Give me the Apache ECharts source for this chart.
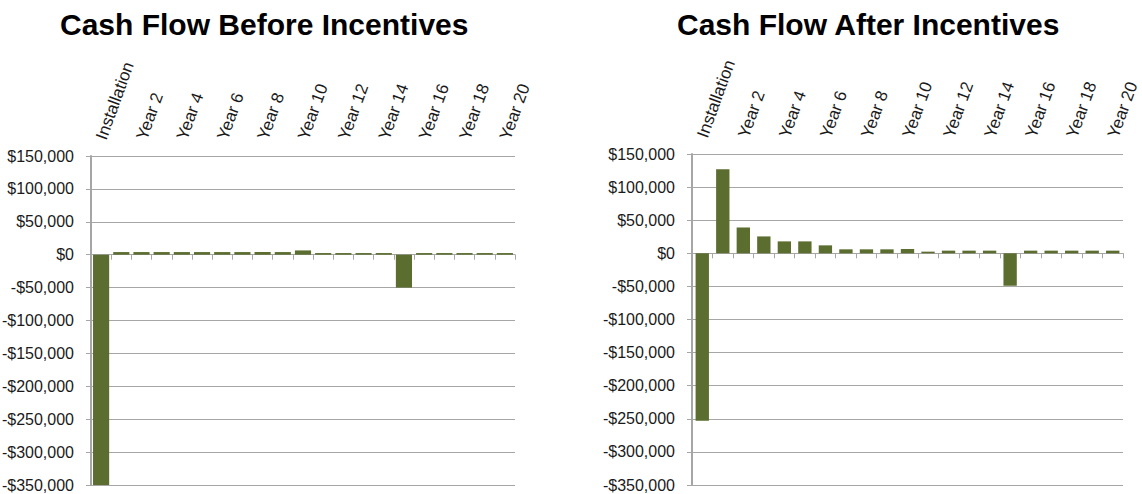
<!DOCTYPE html>
<html>
<head>
<meta charset="utf-8">
<script src="https://cdn.jsdelivr.net/npm/echarts@6/dist/echarts.min.js"></script>
<style>
  html, body { margin: 0; padding: 0; background: #fff; }
  #main { width: 1142px; height: 494px; }
</style>
</head>
<body>
<div id="main"></div>
<script>
var categories = ['Installation', 'Year 1', 'Year 2', 'Year 3', 'Year 4', 'Year 5', 'Year 6', 'Year 7',
  'Year 8', 'Year 9', 'Year 10', 'Year 11', 'Year 12', 'Year 13', 'Year 14', 'Year 15', 'Year 16',
  'Year 17', 'Year 18', 'Year 19', 'Year 20'];

var beforeIncentives = [-350000, 4000, 4000, 4000, 4000, 4000, 4000, 4000, 4000, 4000, 6500,
  2500, 2500, 2500, 2500, -50000, 2500, 2500, 2500, 2500, 2500];

var afterIncentives = [-253000, 127000, 39000, 25500, 18000, 18000, 12000, 6000, 6000, 6000, 6500,
  2500, 4000, 4000, 4000, -49000, 4000, 4000, 4000, 4000, 4000];

var yMin = -350000, yMax = 150000, yStep = 50000;

(function() {
  var font = '"Liberation Sans", Arial, sans-serif';
  var ink = '#1a1a1a';
  var rule = '#a6a6a6';
  var barColor = '#5b6d2f';

  function money(v) {
    var s = '$' + Math.abs(v).toLocaleString('en-US');
    return v < 0 ? '-' + s : s;
  }

  // category labels sit above the plot, slanted
  function labelAxis(gi) {
    return {
      type: 'category', gridIndex: gi, position: 'top', data: categories,
      axisLine: { show: false, onZero: false },
      axisTick: { show: false },
      axisLabel: { interval: 1, rotate: -70, margin: 17, color: ink, fontSize: 17, fontFamily: font }
    };
  }
  // second axis only draws the line and ticks at $0
  function zeroAxis(gi) {
    return {
      type: 'category', gridIndex: gi, position: 'bottom', data: categories,
      axisLine: { show: true, onZero: true, lineStyle: { color: rule, width: 1 } },
      axisTick: { show: true, interval: 0, length: 5, lineStyle: { color: rule } },
      axisLabel: { show: false }
    };
  }
  function valueAxis(gi) {
    return {
      type: 'value', gridIndex: gi, min: yMin, max: yMax, interval: yStep,
      axisLine: { show: true, lineStyle: { color: rule, width: 2 } },
      axisTick: { show: true, length: 5, lineStyle: { color: rule } },
      splitLine: { lineStyle: { color: rule, width: 1 } },
      axisLabel: { margin: 17, color: ink, fontSize: 16, fontFamily: font, formatter: money }
    };
  }

  var chart = echarts.init(document.getElementById('main'), null, { renderer: 'svg' });
  chart.setOption({
    animation: false,
    title: [
      { text: 'Cash Flow Before Incentives', left: 55, top: 4,
        textStyle: { fontSize: 30, fontWeight: 'bold', color: '#000', fontFamily: font } },
      { text: 'Cash Flow After Incentives', left: 672, top: 4,
        textStyle: { fontSize: 30, fontWeight: 'bold', color: '#000', fontFamily: font } }
    ],
    grid: [
      { left: 91, right: 627, top: 156, bottom: 9, outerBoundsMode: 'none' },
      { left: 692, right: 19, top: 154, bottom: 9, outerBoundsMode: 'none' }
    ],
    xAxis: [labelAxis(0), zeroAxis(0), labelAxis(1), zeroAxis(1)],
    yAxis: [valueAxis(0), valueAxis(1)],
    series: [
      {
        name: 'Before Incentives', type: 'bar', xAxisIndex: 0, yAxisIndex: 0,
        data: beforeIncentives, barCategoryGap: '20%',
        itemStyle: { color: barColor }
      },
      {
        name: 'After Incentives', type: 'bar', xAxisIndex: 2, yAxisIndex: 1,
        data: afterIncentives, barCategoryGap: '35%',
        itemStyle: { color: barColor }
      }
    ]
  });
})();
</script>
</body>
</html>
